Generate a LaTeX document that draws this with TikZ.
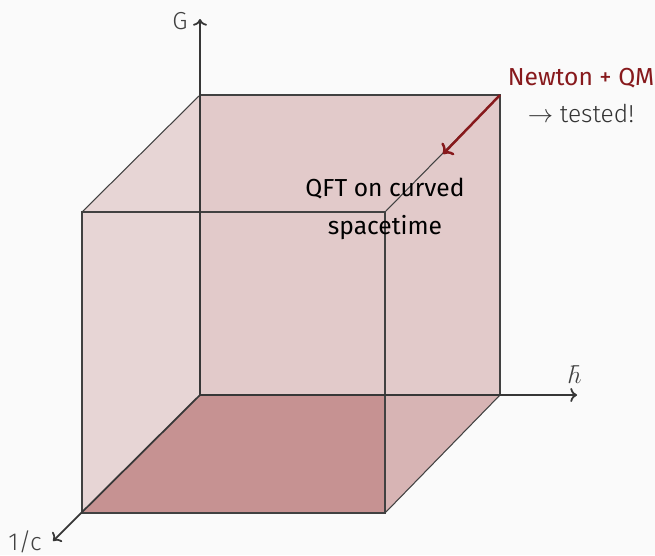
\documentclass[tikz,border=0pt]{standalone}
\usepackage{fontspec}
\setmainfont{Fira Sans Light}
\newfontfamily\firabook{Fira Sans}
\usetikzlibrary{arrows.meta, positioning, calc}
\definecolor{bgcol}{RGB}{250,250,250}
\definecolor{cubered}{RGB}{150,50,50}
\definecolor{newtonred}{RGB}{135,25,28}
\definecolor{edgegray}{RGB}{65,65,65}

\begin{document}
\begin{tikzpicture}[x=0.02cm, y=-0.02cm,
    face/.style={fill=cubered, draw=none},
    edge/.style={draw=edgegray, line width=0.6pt},
    axis/.style={->, draw=edgegray!85!black, line width=1pt},
    lbl/.style={font=\fontsize{14}{17}\selectfont, text=edgegray, inner sep=1pt},
    note/.style={font=\firabook\fontsize{14}{22}\selectfont, align=center, inner sep=1pt},
    arr/.style={->, draw=newtonred, line width=1.4pt}
]
\fill[bgcol] (0,0) rectangle (655,555);
\useasboundingbox (0,0) rectangle (655,555);

% cube corners
\coordinate (o) at (200,395);
\coordinate (bx) at (500,395);
\coordinate (bxz) at (500,95);
\coordinate (bz) at (200,95);
\coordinate (fo) at (82,513);
\coordinate (fx) at (385,513);
\coordinate (fxz) at (385,212);
\coordinate (fz) at (82,212);
\coordinate (fm) at (fx |- o);

% faces
\fill[face, fill opacity=0.24] (o) -- (bx) -- (bxz) -- (bz) -- cycle;
\fill[face, fill opacity=0.18] (o) -- (bz) -- (fz) -- (fo) -- cycle;
\fill[face, fill opacity=0.35] (o) -- (bx) -- (fx) -- (fo) -- cycle;
\fill[face, fill opacity=0.26] (o) -- (fm) -- (fx) -- (fo) -- cycle;

% edges
\draw[edge] (bz) -- (bxz) -- (bx);
\draw[edge] (fz) -- (fxz) -- (fx) -- (fo) -- cycle;
\draw[edge] (bz) -- (fz);
\draw[edge] (bxz) -- (fxz);
\draw[edge] (bx) -- (fx);

% axes
\coordinate (gtip) at (200,19);
\coordinate (htip) at (577,395);
\coordinate (ctip) at (53,541);
\draw[axis] (o) -- (gtip);
\draw[axis] (o) -- (htip);
\draw[axis] (o) -- (ctip);
\node[lbl] (glabel) at (180,21) {G};
\node[lbl] (hlabel) at (577,375) {$\hbar$};
\node[lbl] (clabel) at (25,542) {1/c};

% labels
\node[note] (qft) at (385,209) {QFT on curved\\spacetime};
\node[note, text=newtonred] (newton) at (581,78) {Newton + QM};
\node[lbl, text=black!80, below=0.25cm of newton] (tested) {$\rightarrow$ tested!};
\coordinate (arrend) at (443,154);
\draw[arr] (bxz) -- (arrend);
\end{tikzpicture}
\end{document}
